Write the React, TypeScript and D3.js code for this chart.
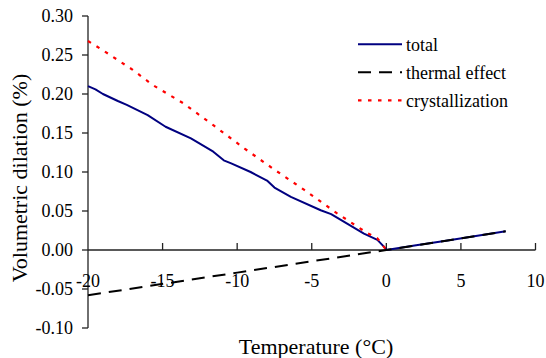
import React from "react";
import * as d3 from "d3";

// Temperature (°C) and volumetric dilation (%) for each curve
const totalTemp = [-20, -19.5, -19, -18, -17.4, -16, -14.8, -13.1, -11.6, -10.9, -10.4, -9.1, -8.0, -7.5, -6.4, -4.4, -3.7, -1.5, -0.6, -0.1, 0, 2, 4, 6, 8];
const totalDil = [0.210, 0.206, 0.200, 0.191, 0.186, 0.173, 0.158, 0.143, 0.126, 0.115, 0.111, 0.100, 0.089, 0.080, 0.068, 0.051, 0.046, 0.021, 0.013, 0.003, 0, 0.006, 0.012, 0.018, 0.024];

const thermalTemp = [-20, -10, 0, 4, 8];
const thermalDil = [-0.058, -0.029, 0, 0.012, 0.024];

const crystTemp = [-20, -19, -17, -15.7, -13.6, -11.6, -9.5, -7.5, -5.5, -3.3, -1.3, -0.6, 0];
const crystDil = [0.268, 0.256, 0.231, 0.212, 0.188, 0.160, 0.130, 0.103, 0.077, 0.047, 0.022, 0.015, 0];

const xTicks = [-20, -15, -10, -5, 0, 5, 10];
const yTicks = [-0.1, -0.05, 0, 0.05, 0.1, 0.15, 0.2, 0.25, 0.3];

const seriesNames = ["total", "thermal effect", "crystallization"];

const W = 546;
const H = 358;

export default function App() {
  const x = d3.scaleLinear().domain([-20, 10]).range([88, 535.5]);
  const y = d3.scaleLinear().domain([-0.1, 0.3]).range([328, 16]);

  const line = d3
    .line<[number, number]>()
    .x((d) => x(d[0]))
    .y((d) => y(d[1]));

  const zip = (a: number[], b: number[]) => a.map((v, i) => [v, b[i]] as [number, number]);

  const styles = [
    { stroke: "#000080", width: 2, dash: undefined as string | undefined },
    { stroke: "#000000", width: 2, dash: "13,8" },
    { stroke: "#ff0000", width: 2.2, dash: "3.5,6.5" },
  ];

  const data = [zip(totalTemp, totalDil), zip(thermalTemp, thermalDil), zip(crystTemp, crystDil)];

  const axisColor = "#222";
  const y0 = y(0);
  const fmt = (t: number) => (t < 0 ? "-" : "") + Math.abs(t).toFixed(2);

  return (
    <svg
      width={W}
      height={H}
      style={{ position: "absolute", left: 0, top: 0, background: "#fff" }}
    >
      <style>{`text { font-family: "Liberation Serif"; fill: #000; }`}</style>
      <rect width={W} height={H} fill="#fff" />

      {/* y axis */}
      <line x1={x(-20)} x2={x(-20)} y1={y(0.3)} y2={y(-0.1)} stroke={axisColor} strokeWidth={1.3} />
      {yTicks.map((t) => (
        <g key={t}>
          <line x1={x(-20) - 6} x2={x(-20)} y1={y(t)} y2={y(t)} stroke={axisColor} strokeWidth={1.3} />
          <text x={73} y={y(t) + 6.3} textAnchor="end" fontSize={18} fontFamily="Liberation Serif">
            {fmt(t)}
          </text>
        </g>
      ))}

      {/* x axis along zero */}
      <line x1={x(-20)} x2={x(10)} y1={y0} y2={y0} stroke={axisColor} strokeWidth={1.3} />
      {xTicks.map((t) => (
        <g key={t}>
          {t !== -20 && (
            <line x1={x(t)} x2={x(t)} y1={y0 - 7} y2={y0} stroke={axisColor} strokeWidth={1.3} />
          )}
          <text x={x(t)} y={287} textAnchor="middle" fontSize={18} fontFamily="Liberation Serif">
            {String(t)}
          </text>
        </g>
      ))}

      {/* curves */}
      {data.map((d, i) => (
        <path
          key={i}
          d={line(d) || ""}
          fill="none"
          stroke={styles[i].stroke}
          strokeWidth={styles[i].width}
          strokeDasharray={styles[i].dash}
          strokeLinejoin="round"
        />
      ))}

      {/* legend */}
      {seriesNames.map((name, i) => {
        const ly = 44.3 + i * 28;
        return (
          <g key={name}>
            <line
              x1={358}
              x2={402}
              y1={ly}
              y2={ly}
              stroke={styles[i].stroke}
              strokeWidth={styles[i].width}
              strokeDasharray={styles[i].dash}
            />
            <text x={406} y={ly + 6.8} fontSize={18} fontFamily="Liberation Serif">
              {name}
            </text>
          </g>
        );
      })}

      {/* axis titles */}
      <text x={316} y={354} textAnchor="middle" fontSize={22} fontFamily="Liberation Serif">
        Temperature (°C)
      </text>
      <text
        transform={`translate(27,178) rotate(-90)`}
        textAnchor="middle"
        fontSize={22}
        fontFamily="Liberation Serif"
      >
        Volumetric dilation (%)
      </text>
    </svg>
  );
}
